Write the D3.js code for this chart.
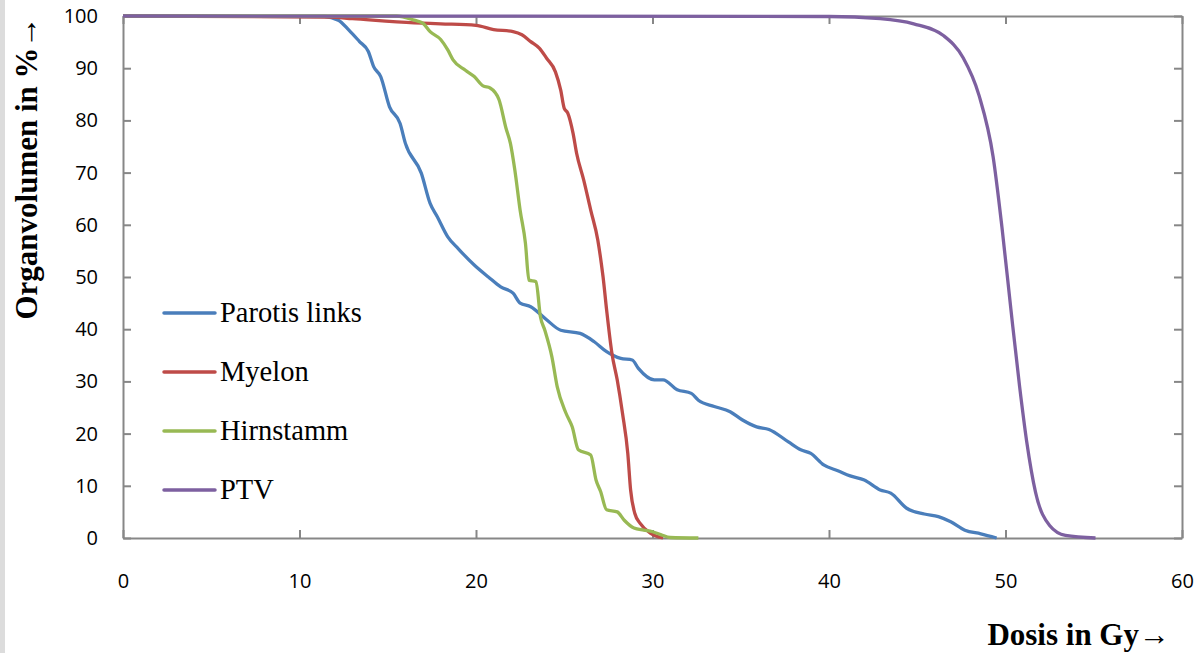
<html>
<head>
<script src="https://cdn.jsdelivr.net/npm/d3@7"></script>
<style>
  body { margin: 0; background: #fff; }
  .tick text { font-family: "Open Sans", sans-serif; font-size: 20px; fill: #000; }
</style>
</head>
<body>
<svg id="chart" width="1194" height="653"></svg>
<script>
// Dosis (Gy), Volumen (%)
var parotis = [[0,100],[11.4,99.9],[12.2,99.2],[12.8,97.3],[13.4,95.1],[13.9,93.2],[14.2,90.3],[14.6,88.4],
  [15.1,82.6],[15.7,79.4],[16.0,75.6],[16.9,69.9],[17.4,64.1],[17.8,61.6],[18.4,57.7],[19.0,55.4],[19.9,52.3],
  [20.7,50.0],[21.4,48.1],[22.1,46.9],[22.5,45.0],[23.1,44.3],[24.0,41.8],[24.8,39.8],[25.9,39.2],[26.7,37.6],
  [27.4,35.7],[28.2,34.4],[28.85,34.1],[29.2,32.5],[30.1,30.3],[30.6,30.3],[31.4,28.4],[32.2,27.7],[32.6,26.4],
  [33.5,25.2],[34.4,24.2],[35.1,22.6],[35.9,21.3],[36.6,20.8],[37.7,18.4],[38.4,16.9],[38.97,16.2],[39.7,14.0],
  [40.5,12.9],[41.2,11.9],[42.0,11.1],[42.9,9.2],[43.5,8.6],[44.4,5.7],[45.4,4.6],[46.2,4.1],[46.9,3.1],
  [47.7,1.5],[48.6,0.8],[49.5,0]];
var myelon = [[0,100],[11.7,99.8],[13.0,99.5],[16.5,98.7],[18.0,98.5],[20.0,98.2],[21.0,97.4],[22.1,97.0],
  [22.6,96.4],[23.1,95.1],[23.6,93.8],[24.0,91.9],[24.5,89.3],[24.8,85.8],[25.0,82.3],[25.2,81.4],[25.5,77.5],
  [25.7,73.7],[26.1,68.6],[26.5,62.8],[26.9,57.1],[27.1,52.6],[27.2,50.0],[27.4,43.7],[27.7,35.4],[28.0,30.3],
  [28.3,23.9],[28.6,16.2],[28.76,9.2],[29.0,4.7],[29.3,2.8],[29.9,0.9],[30.6,0]];
var hirnstamm = [[0,100],[15.5,100],[16.5,99.2],[17.0,98.6],[17.4,97.0],[18.0,95.5],[18.4,93.5],[18.7,91.6],
  [19.4,89.6],[19.9,88.4],[20.4,86.6],[20.8,86.2],[21.3,84.0],[21.7,78.5],[21.95,75.6],[22.2,70.5],[22.5,62.8],
  [22.8,56.5],[23.0,49.4],[23.4,49.1],[23.65,42.4],[23.9,39.8],[24.3,34.7],[24.6,29.0],[25.1,23.9],[25.45,21.3],
  [25.8,16.9],[26.5,15.9],[26.8,11.1],[27.06,8.9],[27.4,5.4],[28.0,5.0],[28.4,3.4],[28.95,1.9],[29.5,1.5],
  [30.0,1.2],[30.5,0.6],[31.0,0.1],[32.6,0]];
var ptv = [[0,100],[40.0,99.9],[42.9,99.5],[44.8,98.5],[46.5,96.2],[47.6,92.0],[48.5,84.8],[49.3,73.0],
  [49.8,59.5],[50.3,44.0],[50.8,29.0],[51.2,18.5],[51.7,8.8],[52.5,2.4],[53.4,0.5],[55.1,0]];

var seriesNames = ["Parotis links", "Myelon", "Hirnstamm", "PTV"];
var seriesData = [parotis, myelon, hirnstamm, ptv];
var seriesColors = ["#4a7ebb", "#be4b48", "#98b954", "#7d60a0"];
var xTicks = [0, 10, 20, 30, 40, 50, 60];
var yTicks = [0, 10, 20, 30, 40, 50, 60, 70, 80, 90, 100];

var svg = d3.select("#chart");
var mLeft = 123, mRight = 1182, mTop = 16, mBottom = 538;

svg.append("rect").attr("x", 0).attr("y", 0).attr("width", 5).attr("height", 653).attr("fill", "#dcdcdc");

var x = d3.scaleLinear().domain([0, 60]).range([mLeft, mRight]);
var y = d3.scaleLinear().domain([0, 100]).range([mBottom, mTop]);

var axisColor = "#878787";

function styleAxis(g) {
    g.selectAll("path, line").attr("stroke", axisColor).attr("stroke-width", 2);
}

svg.append("g").attr("transform", "translate(0," + mBottom + ")")
    .call(d3.axisBottom(x).tickValues(xTicks).tickSizeInner(-8).tickSizeOuter(0).tickPadding(36))
    .call(styleAxis);
svg.append("g").attr("transform", "translate(0," + mTop + ")")
    .call(d3.axisTop(x).tickValues(xTicks).tickSizeInner(-8).tickSizeOuter(0).tickFormat(""))
    .call(styleAxis);
svg.append("g").attr("transform", "translate(" + mLeft + ",0)")
    .call(d3.axisLeft(y).tickValues(yTicks).tickSizeInner(-8).tickSizeOuter(0).tickPadding(25))
    .call(styleAxis);
svg.append("g").attr("transform", "translate(" + mRight + ",0)")
    .call(d3.axisRight(y).tickValues(yTicks).tickSizeInner(-8).tickSizeOuter(0).tickFormat(""))
    .call(styleAxis);

var line = d3.line()
    .x(function(d) { return x(d[0]); })
    .y(function(d) { return y(d[1]); })
    .curve(d3.curveMonotoneX);

seriesData.forEach(function(s, i) {
    svg.append("path")
        .datum(s)
        .attr("d", line)
        .attr("fill", "none")
        .attr("stroke", seriesColors[i])
        .attr("stroke-width", 3.3)
        .attr("stroke-linejoin", "round");
});

// legend
var legendY = [313, 372, 431, 490];
seriesNames.forEach(function(name, i) {
    svg.append("line")
        .attr("x1", 164).attr("x2", 215)
        .attr("y1", legendY[i]).attr("y2", legendY[i])
        .attr("stroke", seriesColors[i]).attr("stroke-width", 3.5).attr("stroke-linecap", "round");
    svg.append("text")
        .attr("x", 220).attr("y", legendY[i] + 9)
        .attr("font-family", "Liberation Serif, serif")
        .attr("font-size", 28.5)
        .text(name);
});

// axis titles
svg.append("text")
    .attr("x", 1170).attr("y", 645)
    .attr("text-anchor", "end")
    .attr("font-family", "Liberation Serif, serif")
    .attr("font-weight", "bold")
    .attr("font-size", 31)
    .text("Dosis in Gy→");

svg.append("text")
    .attr("transform", "translate(37,168) rotate(-90)")
    .attr("text-anchor", "middle")
    .attr("font-family", "Liberation Serif, serif")
    .attr("font-weight", "bold")
    .attr("font-size", 31)
    .text("Organvolumen in %→");
</script>
</body>
</html>
